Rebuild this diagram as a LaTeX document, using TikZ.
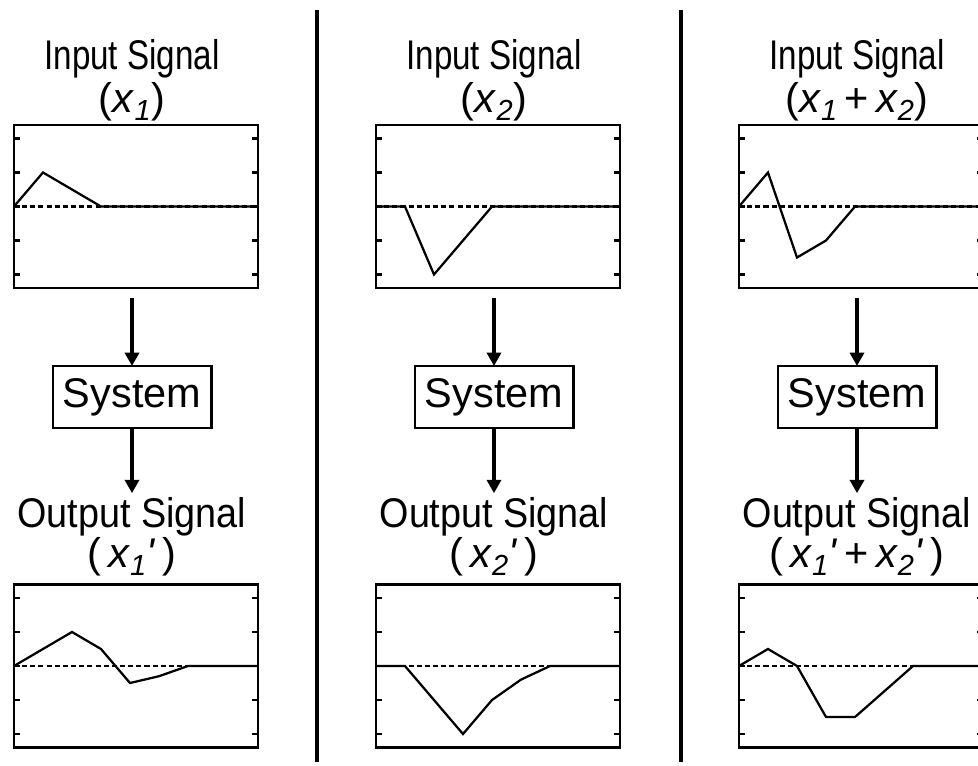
\documentclass[tikz,border=0pt]{standalone}
\usepackage{fontspec}
\setmainfont{Liberation Sans}
\usepackage{graphicx}
\usetikzlibrary{arrows.meta,positioning}

% variable names in the labels
\newcommand{\xs}[1]{\textit{x}\textsubscript{\textit{#1}}}
\newcommand{\xl}[1]{\xs{#1}\textit{\textquotesingle}}
\newcommand{\estreito}[2]{\scalebox{#1}[1]{#2}}

% small plot drawn inside a frame node: #1 frame name, #2 samples
\newcommand{\grafico}[2]{%
  \begin{scope}[shift={(#1.west)}, x=0.725cm, y=0.85cm]
    \foreach \k in {-2,...,2}{
      \draw[tique] (0,\k) -- ++(0.2,0);
      \draw[tique] (8.414,\k) -- ++(-0.2,0);
    }
    \draw[zero] (0,0) -- (8.414,0);
    \draw[sinal] plot coordinates {#2} -- (8.414,0);
  \end{scope}}

\begin{document}
\begin{tikzpicture}[
  x=0.025cm, y=-0.025cm,
  quadro/.style={draw, line width=2pt, minimum width=6.1cm,
                 minimum height=4.075cm, inner sep=0pt, outer sep=0pt},
  caixa/.style={draw, line width=2.1pt, minimum width=3.95cm,
                minimum height=1.55cm, inner sep=0pt, outer sep=0pt,
                font=\fontsize{29.5}{30}\selectfont},
  rotulo/.style={align=center, inner sep=0pt,
                 font=\fontsize{29.5}{30}\selectfont},
  rotulob/.style={rotulo, font=\fontsize{29.5}{27}\selectfont},
  seta/.style={-{Triangle[length=9.5pt,width=10pt]}, line width=2.4pt},
  tique/.style={line width=1.6pt},
  zero/.style={dash pattern=on 3.6pt off 2.2pt, line width=1.5pt},
  sinal/.style={line width=1.6pt},
  divisa/.style={line width=2.9pt}
]
  \path[use as bounding box, clip] (0,0) rectangle (978,766);

  \draw[divisa] (317,10) -- (317,762);
  \draw[divisa] (681,10) -- (681,762);

  \foreach \c/\dx/\tin/\tout in {
      1/0/{(\xs1)}/{(\,\xl1\,)},
      2/362/{(\xs2)}/{(\,\xl2\,)},
      3/725/{(\xs1\,+\,\xs2)}/{(\,\xl1\,+\,\xl2\,)}}{
    \node[quadro] (e\c) at (136+\dx,206.5) {};
    \node[quadro] (r\c) at (136+\dx,666) {};
    \node[caixa] (s\c) at (132+\dx,397) {System};
    \node[rotulo, above=0.1cm of e\c, xshift=-0.1cm] (te\c)
      {\estreito{0.8}{Input Signal}\\ \tin};
    \node[rotulob, above=0.2cm of r\c, xshift=-0.1cm] (tr\c)
      {\estreito{0.91}{Output Signal}\\ \tout};
    \draw[seta, shorten <=0.25cm] (s\c.north |- e\c.south) -- (s\c);
    \draw[seta, shorten >=0.1cm] (s\c) -- (s\c.south |- tr\c.north);
  }

  \grafico{e1}{(0,0) (1,1) (3,0)}
  \grafico{e2}{(0,0) (1,0) (2,-2) (4,0)}
  \grafico{e3}{(0,0) (1,1) (2,-1.5) (3,-1) (4,0)}
  \grafico{r1}{(0,0) (2,1) (3,0.5) (4,-0.5) (5,-0.3) (6,0)}
  \grafico{r2}{(0,0) (1,0) (3,-2) (4,-1) (5,-0.4) (6,0)}
  \grafico{r3}{(0,0) (1,0.5) (2,0) (3,-1.5) (4,-1.5) (6,0)}
\end{tikzpicture}
\end{document}
